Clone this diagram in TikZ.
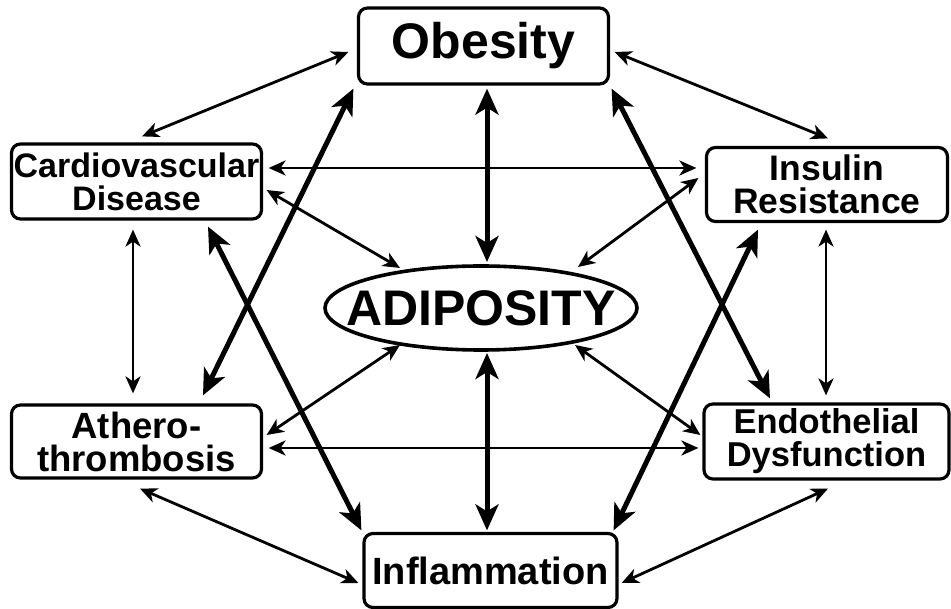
\documentclass[tikz,border=0pt]{standalone}
\usepackage{fontspec}
\setmainfont{Liberation Sans}
\usetikzlibrary{arrows.meta,calc}
\tikzset{
  box/.style={draw=black,line width=3.2pt,rounded corners=9pt,inner sep=0pt,align=center},
  sidefont/.style={font=\bfseries\fontsize{#1}{33}\selectfont},
  thin/.style={line width=2.8pt,{Stealth[length=17pt,width=15pt,inset=5pt]}-{Stealth[length=17pt,width=15pt,inset=5pt]}},
  thick/.style={line width=5pt,{Stealth[length=26pt,width=23pt,inset=7pt]}-{Stealth[length=26pt,width=23pt,inset=7pt]}}
}
\begin{document}
\begin{tikzpicture}[x=1pt,y=-1pt]
\useasboundingbox[fill=white] (0,0) rectangle (951,609);
\node[box,minimum width=250pt,minimum height=76pt,font=\bfseries\fontsize{50}{50}\selectfont] (obe) at (483.5,46) {Obesity};
\node[box,minimum width=250pt,minimum height=75pt,sidefont=34] (cvd) at (136.5,181.5) {Cardiovascular\\Disease};
\node[box,minimum width=241pt,minimum height=74pt,sidefont=35.5] (ins) at (827,184.5) {Insulin\\Resistance};
\node[box,minimum width=250pt,minimum height=73pt,sidefont=36.5] (ath) at (136.5,441.5) {Athero-\\thrombosis};
\node[box,minimum width=245pt,minimum height=75pt,sidefont=34.5] (end) at (826.5,441.5) {Endothelial\\Dysfunction};
\node[box,minimum width=253pt,minimum height=74pt,font=\bfseries\fontsize{38}{38}\selectfont] (inf) at (490.5,570.5) {Inflammation};
\node[inner sep=0pt,font=\bfseries\fontsize{50}{50}\selectfont] (adi) at (481,308) {ADIPOSITY};
\draw[line width=3.6pt] (adi.center) ellipse [x radius=156, y radius=42];

% thin arrows
\draw[thin] ($(obe.west)+(-8.5,6)$) -- ($(cvd.north)+(5.5,-6)$);
\draw[thin] ($(obe.east)+(4.5,6)$) -- ($(ins.north)+(1,-7.5)$);
\draw[thin] ($(cvd.east)+(5.5,-13.5)$) -- ($(ins.west)+(-8.5,-16.5)$);
\draw[thin] ($(cvd.east)+(3.5,8.5)$) -- ($(adi.center)+(-81,-40)$);
\draw[thin] ($(ins.west)+(-6.5,-6.5)$) -- ($(adi.center)+(97,-41)$);
\draw[thin] ($(cvd.south)+(-3.5,9)$) -- ($(ath.north)+(-3.5,-10)$);
\draw[thin] ($(ins.south)+(-1,6.5)$) -- ($(end.north)+(-0.5,-7)$);
\draw[thin] ($(adi.center)+(-81,37)$) -- ($(ath.east)+(3.5,-6.5)$);
\draw[thin] ($(adi.center)+(94,37)$) -- ($(end.west)+(-2,-6.5)$);
\draw[thin] ($(ath.east)+(5.5,6.5)$) -- ($(end.west)+(-4,6.5)$);
\draw[thin] ($(ath.south)+(3.5,9)$) -- ($(inf.west)+(-4,12.5)$);
\draw[thin] ($(end.south)+(1.5,8)$) -- ($(inf.east)+(3,12.5)$);

% thick arrows
\draw[thick] ($(obe.south)+(3.5,3)$) -- ($(adi.center)+(6,-46)$);
\draw[thick] ($(adi.center)+(6,45)$) -- ($(inf.north)+(-3.5,-1.5)$);
\draw[thick] ($(obe.south west)+(-3.5,3)$) -- ($(ath.north)+(66.5,-8)$);
\draw[thick] ($(obe.south east)+(1.5,3)$) -- ($(end.north)+(-56.5,-4)$);
\draw[thick] ($(cvd.south)+(71.5,6)$) -- ($(inf.north west)+(-1,-1.5)$);
\draw[thick] ($(ins.south)+(-69,6.5)$) -- ($(inf.north east)+(-5,-1.5)$);
\end{tikzpicture}
\end{document}
